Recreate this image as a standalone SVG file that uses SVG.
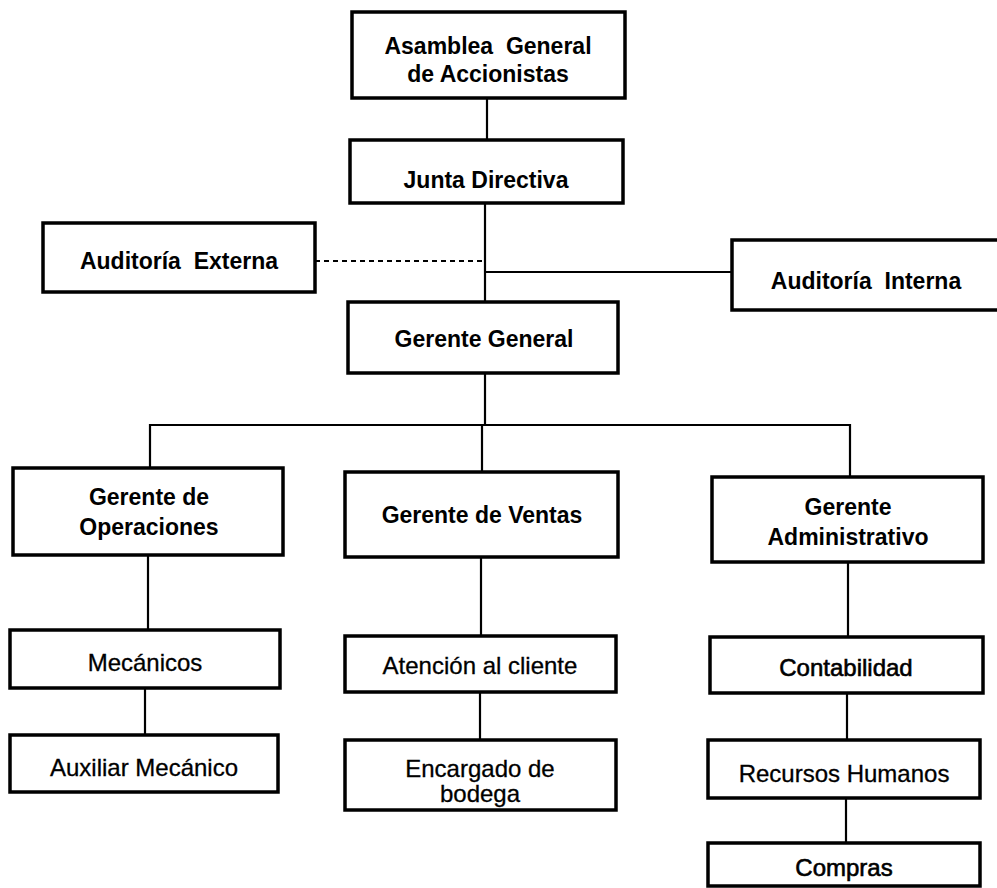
<svg xmlns="http://www.w3.org/2000/svg" width="997" height="888" viewBox="0 0 997 888">
<style>
.box{fill:#fff;stroke:#000;stroke-width:3.5}
.ln{fill:none;stroke:#000;stroke-width:2.2}
.dash{fill:none;stroke:#000;stroke-width:2;stroke-dasharray:5 4}
text{font-family:"Liberation Sans",Arial,sans-serif;font-size:23px;text-anchor:middle;dominant-baseline:central;fill:#000;white-space:pre}
.b{font-weight:bold}
.r{font-size:24px;stroke:#000;stroke-width:0.3}
.sb{font-size:24px;stroke:#000;stroke-width:0.6}
</style>
<rect width="997" height="888" fill="#fff"/>
<g id="connectors">
<line class="ln" x1="487" y1="98" x2="487" y2="140"/>
<line class="ln" x1="485" y1="203" x2="485" y2="302"/>
<line class="dash" x1="315" y1="261" x2="485" y2="261"/>
<line class="ln" x1="485" y1="272" x2="732" y2="272"/>
<line class="ln" x1="485" y1="373" x2="485" y2="425"/>
<polyline class="ln" points="150,468 150,425 850,425 850,477"/>
<line class="ln" x1="482" y1="425" x2="482" y2="472"/>
<line class="ln" x1="148" y1="555" x2="148" y2="630"/>
<line class="ln" x1="145" y1="688" x2="145" y2="735"/>
<line class="ln" x1="481" y1="557" x2="481" y2="636"/>
<line class="ln" x1="480" y1="692" x2="480" y2="740"/>
<line class="ln" x1="848" y1="562" x2="848" y2="637"/>
<line class="ln" x1="847" y1="693" x2="847" y2="740"/>
<line class="ln" x1="846" y1="798" x2="846" y2="843"/>
</g>
<g id="asamblea"><rect class="box" x="352" y="12" width="273" height="86"/><text class="b" x="488" y="46" xml:space="preserve">Asamblea  General</text><text class="b" x="488" y="74">de Accionistas</text></g>
<g id="junta"><rect class="box" x="350" y="140" width="273" height="63"/><text class="b" x="486" y="180">Junta Directiva</text></g>
<g id="auditoria-externa"><rect class="box" x="43" y="223" width="272" height="69"/><text class="b" x="179" y="261" xml:space="preserve">Auditoría  Externa</text></g>
<g id="auditoria-interna"><rect class="box" x="732" y="240" width="280" height="70"/><text class="b" x="866" y="281" xml:space="preserve">Auditoría  Interna</text></g>
<g id="gerente-general"><rect class="box" x="348" y="302" width="270" height="71"/><text class="b" x="484" y="339">Gerente General</text></g>
<g id="gerente-operaciones"><rect class="box" x="13" y="468" width="270" height="87"/><text class="b" x="149" y="497">Gerente de</text><text class="b" x="149" y="527">Operaciones</text></g>
<g id="gerente-ventas"><rect class="box" x="345" y="472" width="273" height="85"/><text class="b" x="482" y="515">Gerente de Ventas</text></g>
<g id="gerente-administrativo"><rect class="box" x="712" y="477" width="271" height="85"/><text class="b" x="848" y="507">Gerente</text><text class="b" x="848" y="537">Administrativo</text></g>
<g id="mecanicos"><rect class="box" x="10" y="630" width="270" height="58"/><text class="r" x="145" y="662">Mecánicos</text></g>
<g id="auxiliar-mecanico"><rect class="box" x="10" y="735" width="268" height="57"/><text class="r" x="144" y="767">Auxiliar Mecánico</text></g>
<g id="atencion-cliente"><rect class="box" x="345" y="636" width="271" height="56"/><text class="r" x="480" y="665">Atención al cliente</text></g>
<g id="encargado-bodega"><rect class="box" x="345" y="740" width="271" height="70"/><text class="r" x="480" y="768">Encargado de</text><text class="r" x="480" y="793">bodega</text></g>
<g id="contabilidad"><rect class="box" x="710" y="637" width="273" height="56"/><text class="sb" x="846" y="667">Contabilidad</text></g>
<g id="recursos-humanos"><rect class="box" x="708" y="740" width="272" height="58"/><text class="r" x="844" y="773">Recursos Humanos</text></g>
<g id="compras"><rect class="box" x="708" y="843" width="272" height="43"/><text class="sb" x="844" y="867">Compras</text></g>
</svg>
